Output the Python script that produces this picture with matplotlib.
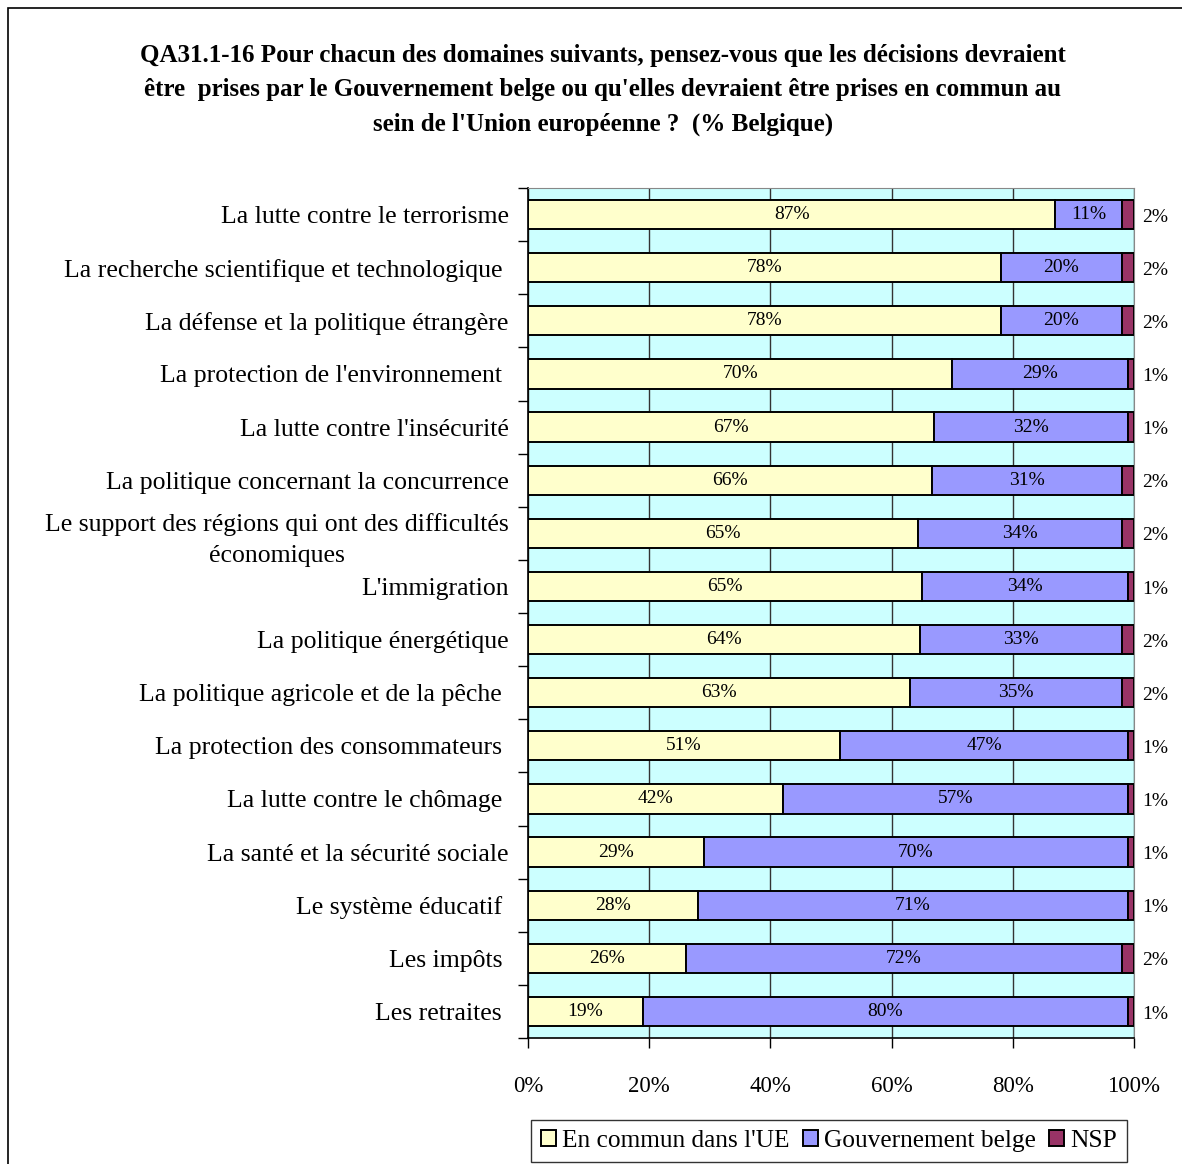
import numpy as np
import matplotlib
matplotlib.use("Agg")
import matplotlib.pyplot as plt
from matplotlib.patches import Rectangle

plt.rcParams['font.family'] = ['Liberation Serif', 'DejaVu Serif']

categories = [
    "La lutte contre le terrorisme",
    "La recherche scientifique et technologique ",
    "La défense et la politique étrangère",
    "La protection de l'environnement ",
    "La lutte contre l'insécurité",
    "La politique concernant la concurrence",
    "Le support des régions qui ont des difficultés\néconomiques",
    "L'immigration",
    "La politique énergétique",
    "La politique agricole et de la pêche ",
    "La protection des consommateurs ",
    "La lutte contre le chômage ",
    "La santé et la sécurité sociale",
    "Le système éducatif ",
    "Les impôts ",
    "Les retraites ",
]
ue = [87, 78, 78, 70, 67, 66, 65, 65, 64, 63, 51, 42, 29, 28, 26, 19]
gouv = [11, 20, 20, 29, 32, 31, 34, 34, 33, 35, 47, 57, 70, 71, 72, 80]
nsp = [2, 2, 2, 1, 1, 2, 2, 1, 2, 2, 1, 1, 1, 1, 2, 1]
series_names = ["En commun dans l'UE", "Gouvernement belge", "NSP"]
colors = ["#FFFFCC", "#9999FF", "#993366"]

title = ("QA31.1-16 Pour chacun des domaines suivants, pensez-vous que les décisions devraient\n"
         "être  prises par le Gouvernement belge ou qu'elles devraient être prises en commun au\n"
         "sein de l'Union européenne ?  (% Belgique)")

W, H = 1182, 1164
fig = plt.figure(figsize=(W / 100, H / 100), dpi=100)
ax = fig.add_axes([528 / W, 1 - 1038 / H, (1134 - 528) / W, (1038 - 188) / H])

# outer frame of the original chart object
fig.patches.append(Rectangle((8 / W, -0.1), 1.2, 1 - 8 / H + 0.1, transform=fig.transFigure,
                             fill=False, edgecolor='black', linewidth=1.2))

vals = np.array([ue, gouv, nsp], dtype=float)
pct = vals / vals.sum(axis=0) * 100  # 100% stacked, like the original
y = np.arange(len(categories))

ax.set_facecolor("#CCFFFF")
left = np.zeros(len(categories))
for i in range(3):
    ax.barh(y, pct[i], left=left, height=0.55, color=colors[i], edgecolor='black',
            linewidth=1.4, label=series_names[i], zorder=3)
    if i < 2:
        for yy, l, w, v in zip(y, left, pct[i], vals[i]):
            ax.text(l + w / 2, yy, f"{int(v)}%", ha='center', va='center', fontsize=14, zorder=4)
    left += pct[i]

for yy, v in zip(y, nsp):
    ax.text(101.3, yy + 0.05, f"{v}%", ha='left', va='center', fontsize=14, clip_on=False)

ax.set_xlim(0, 100)
ax.set_ylim(len(categories) - 0.5, -0.5)
ax.set_xticks(np.arange(0, 101, 20))
ax.set_xticklabels([f"{t}%" for t in range(0, 101, 20)], fontsize=16.5)
ax.tick_params(axis='x', length=7, width=1, pad=20, color='black')
ax.set_yticks(y)
ax.set_yticklabels(categories, fontsize=18.5, multialignment='center', linespacing=1.5)
ax.set_yticks(np.arange(-0.5, len(categories), 1), minor=True)
ax.tick_params(axis='y', which='major', length=0, pad=14)
ax.tick_params(axis='y', which='minor', length=7, width=1, color='black')
ax.grid(axis='x', color='#333333', linewidth=1, zorder=1)

for side in ['top', 'right']:
    ax.spines[side].set_color('#888888')
for side in ['left', 'bottom']:
    ax.spines[side].set_color('black')
    ax.spines[side].set_linewidth(1.2)

fig.text(603 / W, 1 - 90 / H, title, ha='center', va='center', fontsize=18,
         fontweight='bold', linespacing=1.6)

leg = fig.legend(loc='center', bbox_to_anchor=(829 / W, 1 - 1141 / H), ncol=3, fontsize=18.3,
                 frameon=True, fancybox=False, edgecolor='black', handlelength=0.6,
                 handleheight=0.6, handletextpad=0.25, columnspacing=0.5, borderpad=0.4)
leg.get_frame().set_linewidth(1)

fig.savefig("out.png", dpi=100)
